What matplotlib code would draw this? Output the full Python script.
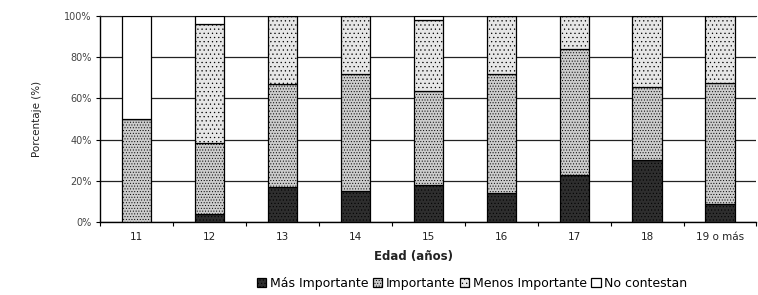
import matplotlib.pyplot as plt
import numpy as np

# Datos (porcentaje por grupo de edad)
edades = ["11", "12", "13", "14", "15", "16", "17", "18", "19 o más"]
mas_importante = [0, 4, 17, 15, 18, 14, 23, 30, 8.5]
importante = [50, 34.5, 50, 57, 45.5, 58, 61, 35.5, 59]
menos_importante = [0, 57.5, 33, 28, 34.5, 28, 16, 34.5, 32.5]
no_contestan = [50, 4, 0, 0, 2, 0, 0, 0, 0]

series = [
    ("Más Importante", mas_importante, "#2e2e2e", "....."),
    ("Importante", importante, "#cccccc", "......"),
    ("Menos Importante", menos_importante, "#e6e6e6", "...."),
    ("No contestan", no_contestan, "white", ""),
]

plt.rcParams['hatch.color'] = '#999999'
plt.rcParams['hatch.linewidth'] = 0.4

fig = plt.figure(figsize=(7.58, 2.95), dpi=100)
ax = fig.add_axes([0.132, 0.2475, 0.866, 0.698])

x = np.arange(len(edades))
base = np.zeros(len(edades))
for nombre, valores, color, hatch in series:
    ax.bar(x, valores, bottom=base, width=0.4, color=color, hatch=hatch,
           edgecolor='black', linewidth=0.9, label=nombre, zorder=3)
    base += np.array(valores)

ax.set_ylim(0, 100)
ax.set_xlim(-0.48, 8.43)
ax.set_yticks(np.arange(0, 101, 20))
ax.set_yticklabels([f"{v}%" for v in range(0, 101, 20)], fontsize=7, color='#444444')
ax.set_xticks(x)
ax.set_xticklabels(edades, fontsize=7.5, color='#222222')
ax.set_xticks(np.arange(-0.5, 9, 1), minor=True)
ax.tick_params(axis='x', which='major', length=0, pad=7)
ax.tick_params(axis='x', which='minor', length=3, width=0.8)
ax.tick_params(axis='y', length=3, width=0.8, pad=3)

ax.grid(axis='y', color='#222222', linewidth=0.9, zorder=0)
ax.spines['right'].set_visible(False)
ax.spines['top'].set_color('#222222')
ax.spines['left'].set_linewidth(1.0)
ax.spines['bottom'].set_linewidth(1.0)

ax.set_ylabel("Porcentaje (%)", fontsize=7.5, labelpad=16, color='#222222')
fig.text(0.546, 0.13, "Edad (años)", ha='center', va='center',
         fontsize=8.5, fontweight='bold', color='#222222')

fig.legend(loc='center', bbox_to_anchor=(0.623, 0.04), ncol=4, frameon=False,
           fontsize=9, handlelength=0.75, handleheight=0.75, handletextpad=0.3,
           columnspacing=0.35, borderpad=0)

plt.savefig("out.png", dpi=100)
